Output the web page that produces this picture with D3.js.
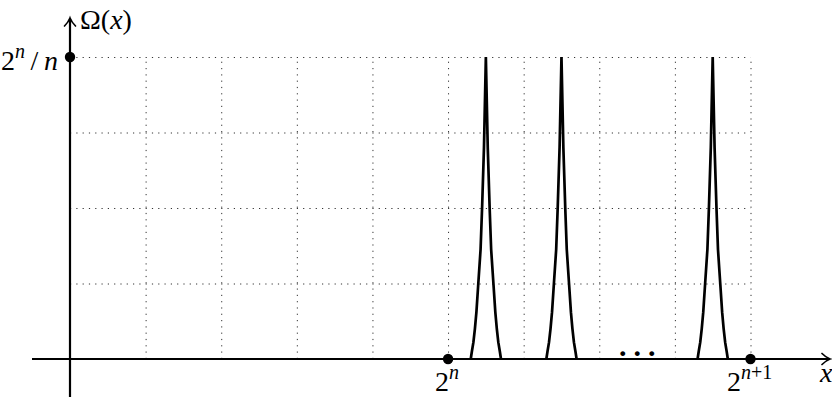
<!DOCTYPE html>
<html>
<head>
<meta charset="utf-8">
<script src="https://cdn.jsdelivr.net/npm/d3@7"></script>
<style>
  body { margin: 0; background: #fff; }
</style>
</head>
<body>
<div id="graph"></div>
<script>
// grid units: x from 0 to 9 (2^n at 5, 2^(n+1) at 9), y from 0 to 4 (2^n/n at 4)
const xTicks = [0, 1, 2, 3, 4, 5, 6, 7, 8, 9];
const yTicks = [0, 1, 2, 3, 4];
const peakCenters = [5.5, 6.5, 8.5];
// shape of one peak (offset from centre, height)
const profileOffset = [-0.2, -0.185, -0.165, -0.145, -0.125, -0.1, -0.07, -0.05, -0.025, 0, 0.025, 0.05, 0.07, 0.1, 0.125, 0.145, 0.165, 0.185, 0.2];
const profileHeight = [0, 0.1, 0.22, 0.4, 0.62, 1.0, 1.45, 2.0, 2.8, 4, 2.8, 2.0, 1.45, 1.0, 0.62, 0.4, 0.22, 0.1, 0];
const markedPoints = [{x: 0, y: 4}, {x: 5, y: 0}, {x: 9, y: 0}];

const width = 832, height = 398;
const serif = "'Liberation Serif', 'Times New Roman', 'DejaVu Serif', serif";

const svg = d3.select("#graph").append("svg")
    .attr("width", width)
    .attr("height", height);

const x = d3.scaleLinear().domain([0, 9]).range([70, 750.5]);
const y = d3.scaleLinear().domain([0, 4]).range([359, 57]);

// dotted grid
const gridStyle = g => g.call(g => g.select(".domain").remove())
    .call(g => g.selectAll("text").remove())
    .call(g => g.selectAll(".tick line")
        .attr("stroke", "#333")
        .attr("stroke-width", 1)
        .attr("stroke-dasharray", "1.2 5.1"));

svg.append("g")
    .attr("transform", "translate(0," + y(0) + ")")
    .call(d3.axisBottom(x).tickValues(xTicks.slice(1)).tickSize(-(y(0) - y(4))))
    .call(gridStyle);

svg.append("g")
    .attr("transform", "translate(" + x(0) + ",0)")
    .call(d3.axisLeft(y).tickValues(yTicks.slice(1)).tickSize(-(x(9) - x(0))))
    .call(gridStyle);

// axes
svg.append("line")
    .attr("x1", 32).attr("x2", 829)
    .attr("y1", y(0)).attr("y2", y(0))
    .attr("stroke", "#000").attr("stroke-width", 2.2);
svg.append("line")
    .attr("x1", x(0)).attr("x2", x(0))
    .attr("y1", 397).attr("y2", 19)
    .attr("stroke", "#000").attr("stroke-width", 2.2);

// arrow heads
svg.append("path")
    .attr("d", "M822,353.5 Q826,357.5 830,359 Q826,360.5 822,364.5")
    .attr("fill", "none").attr("stroke", "#000").attr("stroke-width", 1.7)
    .attr("stroke-linecap", "round");
svg.append("path")
    .attr("d", "M64.5,26 Q68.5,22 70,18 Q71.5,22 75.5,26")
    .attr("fill", "none").attr("stroke", "#000").attr("stroke-width", 1.7)
    .attr("stroke-linecap", "round");

// peaks
const line = d3.line()
    .x(d => x(d[0]))
    .y(d => y(d[1]));

svg.selectAll(".peak")
    .data(peakCenters)
    .join("path")
    .attr("class", "peak")
    .attr("d", c => line(profileOffset.map((o, i) => [c + o, profileHeight[i]])))
    .attr("fill", "none")
    .attr("stroke", "#000")
    .attr("stroke-width", 2.7)
    .attr("stroke-linejoin", "bevel");

// marked points
svg.selectAll(".dot")
    .data(markedPoints)
    .join("circle")
    .attr("class", "dot")
    .attr("cx", d => x(d.x))
    .attr("cy", d => y(d.y))
    .attr("r", 5.2)
    .attr("fill", "#000");

// dots between the peaks
svg.append("text")
    .attr("x", 619)
    .attr("y", 356)
    .attr("font-family", serif)
    .attr("font-size", 30)
    .attr("font-weight", "bold")
    .attr("letter-spacing", 7)
    .text("...");

// labels
const yLabel = svg.append("text").attr("x", 80).attr("y", 29)
    .attr("font-family", serif).attr("font-size", 28);
yLabel.append("tspan").text("Ω(");
yLabel.append("tspan").attr("font-style", "italic").text("x");
yLabel.append("tspan").text(")");

const topLabel = svg.append("text").attr("x", 1).attr("y", 70)
    .attr("font-family", serif).attr("font-size", 28);
topLabel.append("tspan").text("2");
topLabel.append("tspan").attr("font-style", "italic").attr("font-size", 20).attr("dy", -12).text("n");
topLabel.append("tspan").attr("dy", 12).text("\u2009/\u2009");
topLabel.append("tspan").attr("font-style", "italic").text("n");

const lowLabel = svg.append("text").attr("x", 435).attr("y", 391)
    .attr("font-family", serif).attr("font-size", 28);
lowLabel.append("tspan").text("2");
lowLabel.append("tspan").attr("font-style", "italic").attr("font-size", 20).attr("dy", -12).text("n");

const highLabel = svg.append("text").attr("x", 727).attr("y", 391)
    .attr("font-family", serif).attr("font-size", 28);
highLabel.append("tspan").text("2");
highLabel.append("tspan").attr("font-style", "italic").attr("font-size", 20).attr("dy", -12).text("n");
highLabel.append("tspan").attr("font-size", 20).text("+1");

svg.append("text")
    .attr("x", 820).attr("y", 382)
    .attr("font-family", serif)
    .attr("font-size", 28)
    .attr("font-style", "italic")
    .text("x");
</script>
</body>
</html>
